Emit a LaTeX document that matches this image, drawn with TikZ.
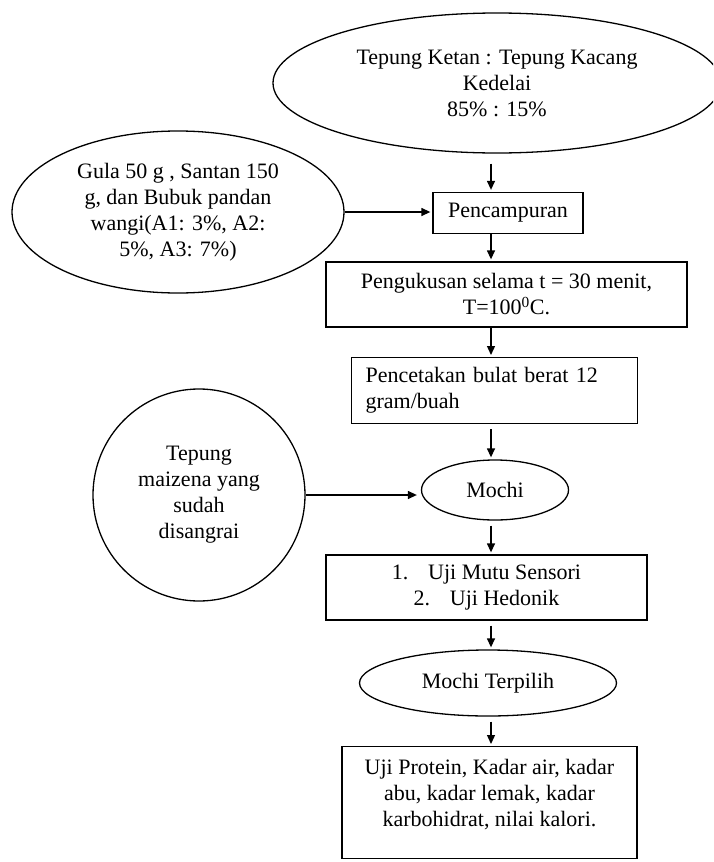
\documentclass[tikz,border=0pt]{standalone}
\usepackage{fontspec}
\setmainfont{Liberation Serif}
\usetikzlibrary{arrows.meta, positioning, calc, shapes.geometric}
\tikzset{
    kotak/.style={draw, line width=1.3pt, rectangle, align=center, inner sep=0pt},
    oval/.style={draw, line width=1.3pt, ellipse, align=center, inner sep=0pt},
    panah/.style={-{Triangle[length=9pt, width=8pt]}, line width=1.3pt, shorten <=5pt, shorten >=2pt}
}

\begin{document}
\begin{tikzpicture}[x=1pt, y=-1pt, font=\fontsize{22}{26}\selectfont]
    \path[use as bounding box, clip] (0,0) rectangle (713,862);
    % Bahan utama
    \node[oval, minimum width=448pt, minimum height=140pt] (tepung) at (497,83) {Tepung Ketan : Tepung Kacang\\Kedelai\\85\% : 15\%\hspace*{0pt}};
    % Bahan tambahan
    \node[oval, minimum width=332pt, minimum height=162pt] (gula) at (178,212) {Gula 50 g , Santan 150\\g, dan Bubuk pandan\\wangi(A1: 3\%, A2:\\5\%, A3: 7\%)};
    \node[oval, circle, minimum size=212pt] (maizena) at (199,495) {Tepung\\maizena yang\\sudah\\disangrai};
    % Proses
    \node[kotak, minimum width=150pt, minimum height=41pt] (campur) at (508,213) {Pencampuran};
    \node[kotak, minimum width=361pt, minimum height=65pt] (kukus) at (506.5,294.5) {Pengukusan selama t = 30 menit,\\T=100\textsuperscript{0}C.};
    \node[kotak, anchor=north west, align=left, text width=258pt, inner xsep=14pt, minimum height=66pt] (cetak) at (351,357) {Pencetakan bulat berat 12\\gram/buah};
    \node[oval, minimum width=147pt, minimum height=60pt] (mochi) at (495,490) {Mochi};
    \node[kotak, minimum width=321pt, minimum height=65pt] (uji) at (486.5,587.5) {1.\hspace{0.9em}Uji Mutu Sensori\\2.\hspace{0.9em}Uji Hedonik};
    \node[oval, minimum width=257pt, minimum height=66pt] (pilih) at (488,683) {Mochi Terpilih};
    \node[kotak, anchor=north, minimum width=295pt, text height=72pt, text depth=24pt, inner ysep=8pt] (analisis) at (489.5,746) {Uji Protein, Kadar air, kadar\\abu, kadar lemak, kadar\\karbohidrat, nilai kalori.};
    % Alur
    \coordinate (kolom) at (491,0);
    \draw[panah, shorten <=10pt] (tepung.south -| kolom) -- (campur.north -| kolom);
    \draw[panah, shorten <=0pt] (campur.south -| kolom) -- (kukus.north -| kolom);
    \draw[panah, shorten <=0pt] (kukus.south -| kolom) -- (cetak.north -| kolom);
    \draw[panah] (cetak.south -| kolom) -- (mochi.north -| kolom);
    \draw[panah] (mochi.south -| kolom) -- (uji.north -| kolom);
    \draw[panah] (uji.south -| kolom) -- (pilih.north -| kolom);
    \draw[panah] (pilih.south -| kolom) -- (analisis.north -| kolom);
    \draw[panah, shorten <=0pt] (gula.east) -- (gula.east -| campur.west);
    \draw[panah, shorten <=0pt, shorten >=4pt] (maizena.east) -- (maizena.east -| mochi.west);
\end{tikzpicture}
\end{document}
